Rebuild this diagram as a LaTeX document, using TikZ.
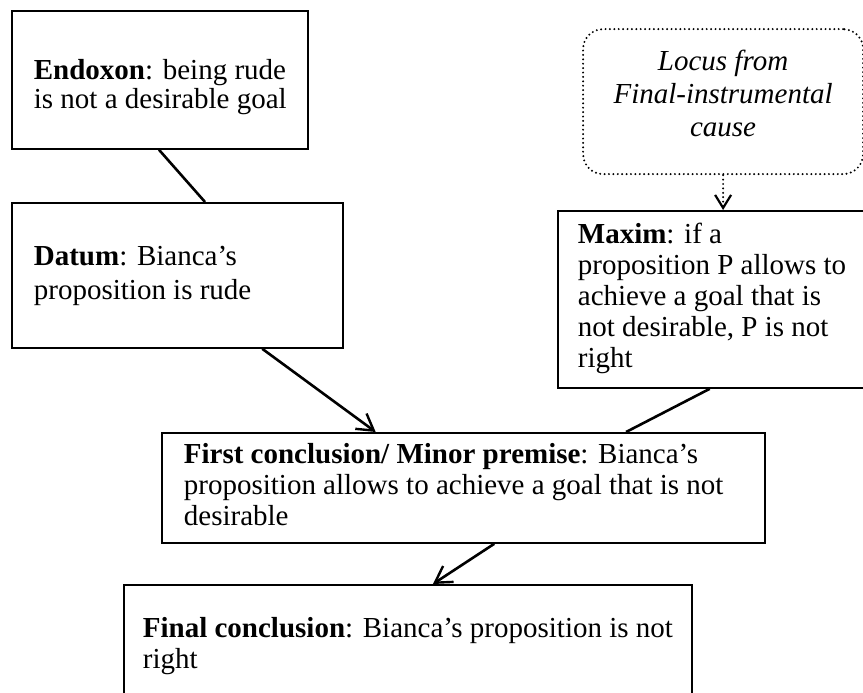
\documentclass[tikz,border=0pt]{standalone}
\usepackage{fontspec}
\setmainfont{Liberation Serif}
\usetikzlibrary{arrows.meta,calc}
% box text: fixed width #1, left indent #2, lines #3 set flush left
\newcommand{\boxlines}[3]{\makebox[#1][l]{\hspace*{#2}\begin{tabular}{@{}l@{}}#3\end{tabular}}}
% move box contents up or down without changing the space they take
\newcommand{\nudge}[2]{\raisebox{#1}[\height][\depth]{#2}}
\begin{document}
\begin{tikzpicture}[x=1pt,y=1pt,
  every node/.style={font=\fontsize{29}{31}\selectfont},
  argbox/.style={draw, line width=1.8pt, anchor=north west, inner sep=0pt},
  locusbox/.style={draw, line width=2.2pt, rounded corners=20pt,
    dash pattern=on 0pt off 4.4pt, line cap=round, anchor=north west,
    inner sep=0pt, font=\fontsize{29}{33}\selectfont\itshape},
  link/.style={line width=2.6pt},
  infer/.style={line width=2.6pt,
    -{Straight Barb[length=16pt,width=19pt,line width=2.4pt]}},
  locuslink/.style={line width=2.2pt, dash pattern=on 0pt off 4.4pt, line cap=round,
    -{Straight Barb[length=13pt,width=16pt,line width=2.2pt,line cap=butt]}}
]
\fill[white] (0,0) rectangle (863,-693);
\clip (0,0) rectangle (863,-693);

% premises on the left
\node[argbox, minimum height=138, font=\fontsize{29}{29}\selectfont] (endox) at (11,-10)
  {\nudge{-8pt}{\boxlines{296pt}{22pt}{\textbf{Endoxon}: being rude\\is not a desirable goal}}};
\node[argbox, minimum height=145, font=\fontsize{29}{34}\selectfont] (datum) at (11,-202)
  {\boxlines{331pt}{22pt}{\textbf{Datum}: Bianca’s\\proposition is rude}};

% locus and maxim on the right
\node[locusbox, minimum width=280, minimum height=145] (locus) at (582,-28)
  {\nudge{5pt}{\begin{tabular}{@{}c@{}}Locus from\\Final-instrumental\\cause\end{tabular}}};
\node[argbox, minimum height=177] (maxim) at (557,-210)
  {\boxlines{343pt}{20pt}{\textbf{Maxim}: if a\\proposition P allows to\\achieve a goal that is\\not desirable, P is not\\right}};

% conclusions
\node[argbox, minimum height=110] (first) at (161,-432)
  {\boxlines{603pt}{22pt}{\textbf{First conclusion/ Minor premise}: Bianca’s\\proposition allows to achieve a goal that is not\\desirable}};
\node[argbox, minimum height=124] (final) at (123,-584)
  {\boxlines{568pt}{19pt}{\textbf{Final conclusion}: Bianca’s proposition is not\\right}};

% connectors
\draw[link] ($(endox.south west)!0.497!(endox.south east)$)
  -- ($(datum.north west)!0.583!(datum.north east)$);
\draw[infer] ($(datum.south west)!0.755!(datum.south east)$)
  -- ($(first.north west)!0.355!(first.north east)$);
\draw[link] ($(maxim.south west)!0.443!(maxim.south east)$)
  -- ($(first.north west)!0.769!(first.north east)$);
\draw[infer] ($(first.south west)!0.551!(first.south east)$)
  -- ($(final.north west)!0.544!(final.north east)$);
\draw[locuslink] (locus.south) -- (locus.south |- maxim.north);
\end{tikzpicture}
\end{document}
